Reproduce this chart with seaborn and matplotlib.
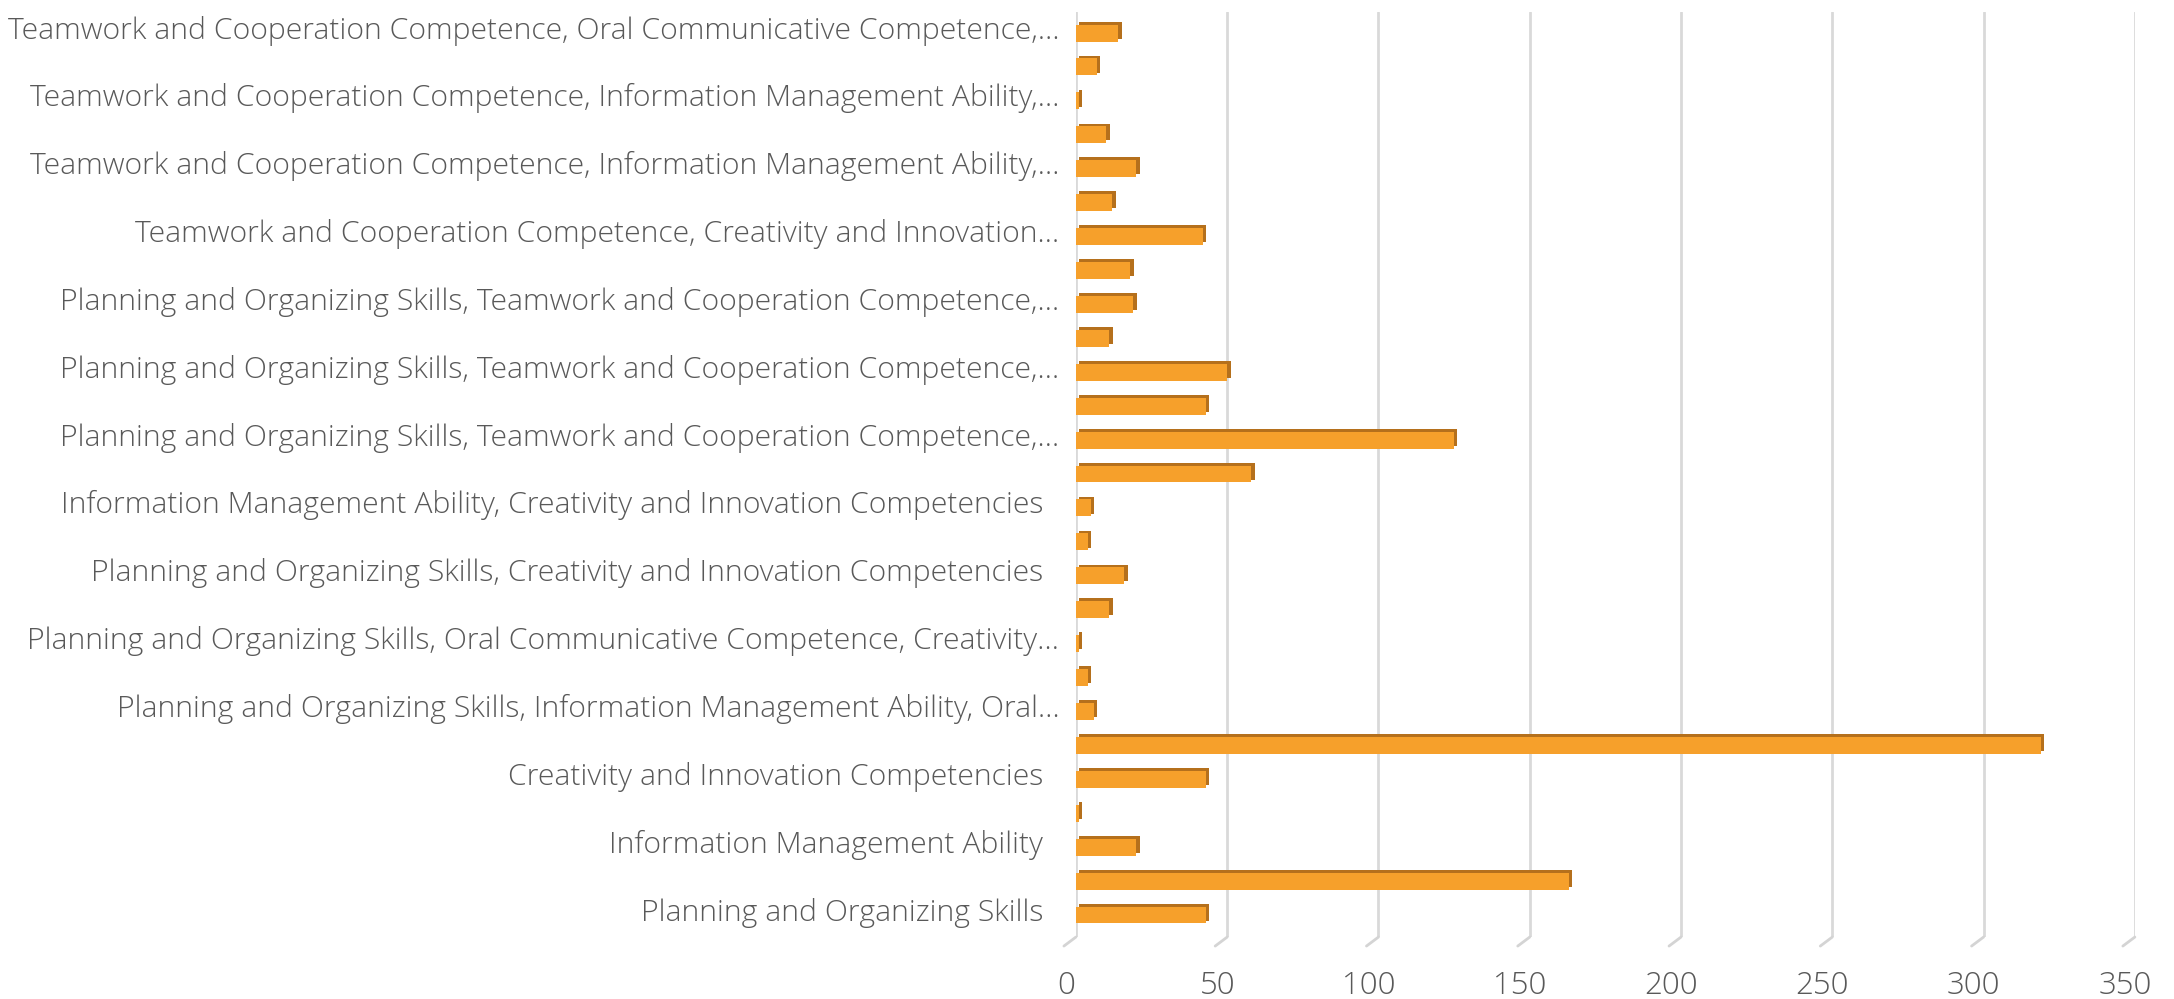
import numpy as np
import pandas as pd
import matplotlib
matplotlib.use("Agg")
import matplotlib.pyplot as plt
import matplotlib.patheffects as pe
import matplotlib.transforms as mtransforms
import seaborn as sns

# values, bottom to top (27 bars)
values = [43, 163, 20, 1, 43, 319, 6, 4, 1, 11, 16, 4, 5, 58, 125,
          43, 50, 11, 19, 18, 42, 12, 20, 10, 1, 7, 14]

# tick labels shown on every other bar (bottom to top)
tick_labels = [
    "Planning and Organizing Skills",
    "Information Management Ability",
    "Creativity and Innovation Competencies",
    "Planning and Organizing Skills, Information Management Ability, Oral…",
    "Planning and Organizing Skills, Oral Communicative Competence, Creativity…",
    "Planning and Organizing Skills, Creativity and Innovation Competencies",
    "Information Management Ability, Creativity and Innovation Competencies",
    "Planning and Organizing Skills, Teamwork and Cooperation Competence,…",
    "Planning and Organizing Skills, Teamwork and Cooperation Competence,…",
    "Planning and Organizing Skills, Teamwork and Cooperation Competence,…",
    "Teamwork and Cooperation Competence, Creativity and Innovation…",
    "Teamwork and Cooperation Competence, Information Management Ability,…",
    "Teamwork and Cooperation Competence, Information Management Ability,…",
    "Teamwork and Cooperation Competence, Oral Communicative Competence,…",
]
x_ticks = [0, 50, 100, 150, 200, 250, 300, 350]

sns.set_theme(style="white")
plt.rcParams['font.family'] = ['Open Sans', 'DejaVu Sans']

df = pd.DataFrame({"pos": np.arange(len(values)), "value": values})

fig = plt.figure(figsize=(21.74, 9.99), dpi=100)
ax = fig.add_axes([0.4949, 0.062, 0.4871, 0.926])

sns.barplot(data=df, x="value", y="pos", orient="y", native_scale=True,
            color="#F6A02B", saturation=1, width=0.5, linewidth=0, ax=ax)

for p in ax.patches:
    p.set_linewidth(0)
    p.set_path_effects([
        pe.SimplePatchShadow(offset=(2.4, 2.0), shadow_rgbFace="#B5701C", alpha=1.0),
        pe.Normal(),
    ])
    p.set_zorder(3)

ax.set_xlim(0, 350)
ax.set_ylim(-0.65, 26.62)
ax.set_xticks(x_ticks)
ax.set_xticklabels([str(t) for t in x_ticks])
lab_pos = list(range(0, len(values), 2))
ax.set_yticks(lab_pos)
ax.set_yticklabels([t if t.endswith("…") else t + "  " for t in tick_labels])

ax.xaxis.grid(True, color="#D9D9D9", linewidth=2)
ax.yaxis.grid(False)
ax.set_axisbelow(True)
for s in ax.spines.values():
    s.set_visible(False)

# 3D floor feet of the gridlines
foot = mtransforms.blended_transform_factory(ax.transData, ax.transAxes)
for xt in x_ticks:
    ax.annotate("", xy=(xt, 0), xycoords=foot,
                xytext=(-12, -9), textcoords="offset pixels",
                arrowprops=dict(arrowstyle="-", color="#D4D4D4", lw=2,
                                shrinkA=0, shrinkB=0),
                annotation_clip=False)

ax.tick_params(axis="y", length=0, pad=12, labelsize=21.7, labelcolor="#595959")
ax.tick_params(axis="x", length=0, pad=24, labelsize=22.5, labelcolor="#595959")
up = mtransforms.ScaledTranslation(0, 6 / 100, fig.dpi_scale_trans)
for lbl in ax.get_yticklabels():
    lbl.set_fontweight("light")
    lbl.set_transform(lbl.get_transform() + up)
left = mtransforms.ScaledTranslation(-10 / 100, 0, fig.dpi_scale_trans)
for lbl in ax.get_xticklabels():
    lbl.set_fontweight("light")
    lbl.set_transform(lbl.get_transform() + left)
ax.set_xlabel("")
ax.set_ylabel("")

fig.savefig("out.png", dpi=100, facecolor="white")
